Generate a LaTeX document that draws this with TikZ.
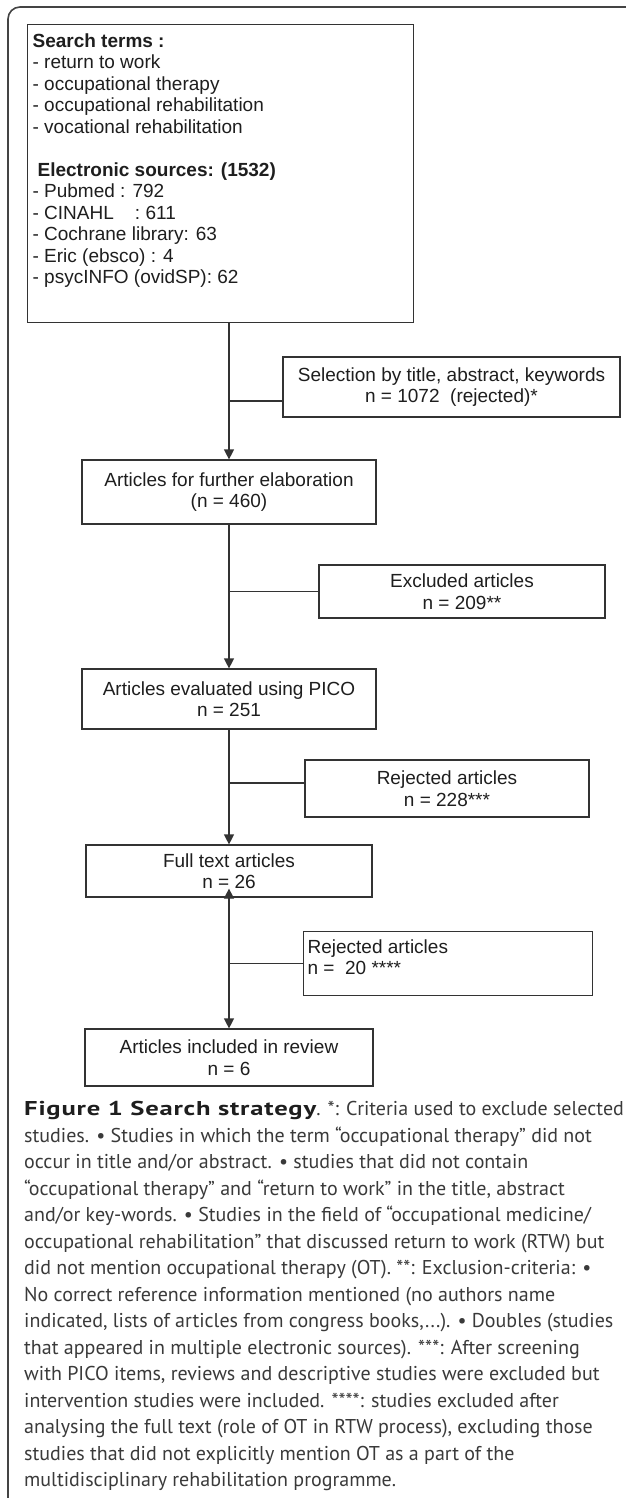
\documentclass[tikz,border=0pt]{standalone}
\usepackage{fontspec}
\setmainfont{Liberation Sans}
\newfontfamily\capfont{PT Sans}
\newfontfamily\capbf[FakeStretch=1.33,LetterSpace=4]{PT Sans Bold}
\usetikzlibrary{arrows.meta}
\definecolor{ln}{HTML}{333333}
\definecolor{tx}{HTML}{1E1E1E}
\definecolor{frame}{HTML}{444444}
\definecolor{captx}{HTML}{3A3A3A}
\begin{document}
\begin{tikzpicture}[x=1pt,y=-1pt,
  box/.style={draw=ln, line width=1.2pt, inner sep=0pt, align=center, text=tx,
    font=\fontsize{19}{21.5}\selectfont},
  conn/.style={draw=ln, line width=1.2pt},
  arr/.style={conn, -{Triangle[length=10pt,width=10pt]}},
  darr/.style={conn, {Triangle[length=10pt,width=10pt]}-{Triangle[length=10pt,width=10pt]}},
]
\useasboundingbox (0,0) rectangle (625,1498);
\fill[white] (0,0) rectangle (625,1498);
% outer frame
\draw[line width=1.6pt, draw=frame, rounded corners=12pt] (8,1502) -- (8,7) -- (628,7);

% boxes
\node[box, anchor=north west] (search) at (27,24)
 {\parbox[t][298pt][t]{386pt}{\raggedright\setlength{\leftskip}{5pt}\vspace*{9pt}%
 \textbf{Search terms :}\\
 - return to work\\
 - occupational therapy\\
 - occupational rehabilitation\\
 - vocational rehabilitation\\[21.5pt]
 \hspace*{5pt}\textbf{Electronic sources: (1532)}\\
 - Pubmed : 792\\
 - CINAHL~~~~: 611\\
 - Cochrane library: 63\\
 - Eric (ebsco) : 4\\
 - psycINFO (ovidSP): 62}};
\node[box, minimum width=337pt, minimum height=60pt] (sel) at (451.5,387)
 {Selection by title, abstract, keywords\\n = 1072~~(rejected)*};
\node[box, minimum width=294pt, minimum height=64pt] (fe) at (229,492)
 {Articles for further elaboration\\(n = 460)};
\node[box, minimum width=286pt, minimum height=53pt] (excl) at (462,591.5)
 {Excluded articles\\n = 209**};
\node[box, minimum width=294pt, minimum height=60pt] (pico) at (229,699)
 {Articles evaluated using PICO\\n = 251};
\node[box, minimum width=284pt, minimum height=57pt] (rej1) at (447,788.5)
 {Rejected articles\\n = 228***};
\node[box, minimum width=286pt, minimum height=52pt] (ft) at (229,871)
 {Full text articles\\n = 26};
\node[box, anchor=north west] (rej2) at (303,931)
 {\parbox[t][64pt][t]{289pt}{\raggedright\setlength{\leftskip}{4pt}\vspace*{8pt}%
 Rejected articles\\
 n =~~20 ****}};
\node[box, minimum width=288pt, minimum height=57pt] (inc) at (229,1057.5)
 {Articles included in review\\n = 6};

% connectors
\draw[arr] (search.south -| fe.north) -- (fe.north);
\coordinate (s1) at ([yshift=-14pt]sel.west);
\draw[conn] (s1) -- (s1 -| fe.north);
\draw[arr] (fe.south) -- (pico.north);
\draw[conn] (excl.west) -- (excl.west -| fe.south);
\draw[arr] (pico.south) -- (ft.north);
\coordinate (r1) at ([yshift=5.5pt]rej1.west);
\draw[conn] (r1) -- (r1 -| pico.south);
\draw[darr] ([yshift=9pt]ft.south) -- (inc.north);
\draw[conn] (rej2.west) -- (rej2.west -| ft.south);

% caption
\node[anchor=north west, inner sep=0pt, align=left, text=captx,
  font=\capfont\fontsize{20}{26.5}\selectfont] (cap) at (24,1101)
 {{\color{tx}\capbf Figure 1 Search strategy}. *: Criteria used to exclude selected\\
 studies. • Studies in which the term “occupational therapy” did not\\
 occur in title and/or abstract. • studies that did not contain\\
 “occupational therapy” and “return to work” in the title, abstract\\
 and/or key-words. • Studies in the field of “occupational medicine/\\
 occupational rehabilitation” that discussed return to work (RTW) but\\
 did not mention occupational therapy (OT). **: Exclusion-criteria: •\\
 No correct reference information mentioned (no authors name\\
 indicated, lists of articles from congress books,...). • Doubles (studies\\
 that appeared in multiple electronic sources). ***: After screening\\
 with PICO items, reviews and descriptive studies were excluded but\\
 intervention studies were included. ****: studies excluded after\\
 analysing the full text (role of OT in RTW process), excluding those\\
 studies that did not explicitly mention OT as a part of the\\
 multidisciplinary rehabilitation programme.};
\end{tikzpicture}
\end{document}
